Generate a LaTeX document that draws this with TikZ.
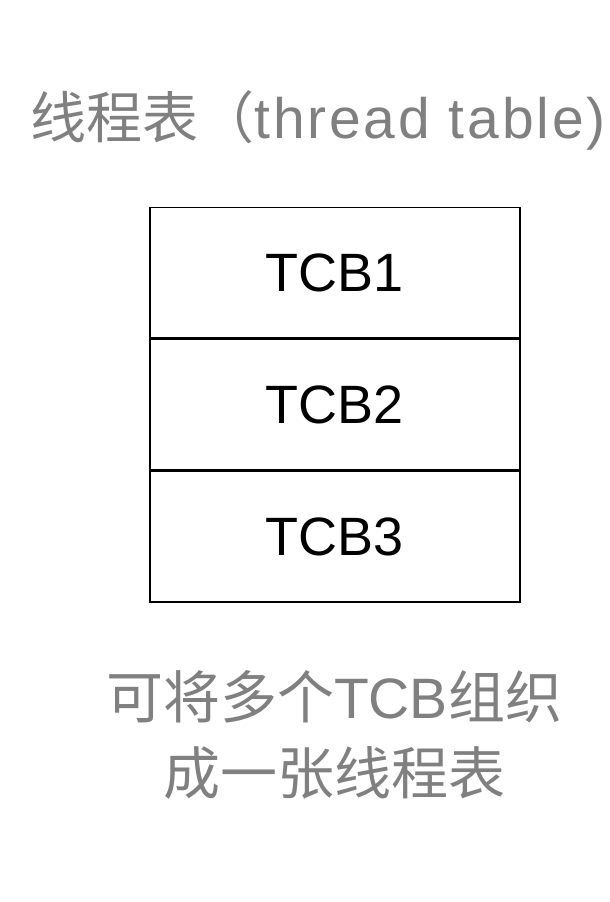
\documentclass[tikz,border=0pt]{standalone}
\usepackage{fontspec}
\setmainfont{Liberation Sans}
\newfontfamily\cjk{Noto Sans CJK SC}
\usepackage{tikz}
\usetikzlibrary{positioning}
\definecolor{capgray}{HTML}{808080}

\begin{document}
\begin{tikzpicture}[x=1pt,y=-1pt]
        \tikzset{
        tcb/.style={draw, line width=1.3pt, minimum width=370pt, minimum height=130.7pt, inner sep=0pt, font=\fontsize{54}{60}\selectfont},
        captext/.style={text=capgray, font=\fontsize{57}{76}\selectfont, align=center},
        }
        \useasboundingbox (0,0) rectangle (610,902);
        \node[captext] (title) at (318,120) {{\cjk\fontsize{56}{60}\selectfont 线程表（}{\addfontfeature{LetterSpace=5}thread table)}};
        \node[tcb] (t1) at (335,272.5) {TCB1};
        \node[tcb, below=0pt of t1] (t2) {TCB2};
        \node[tcb, below=0pt of t2] (t3) {TCB3};
        \node[captext] (note) at (334,735) {{\cjk 可将多个}TCB{\cjk 组织}\\{\cjk 成一张线程表}};
\end{tikzpicture}
\end{document}
